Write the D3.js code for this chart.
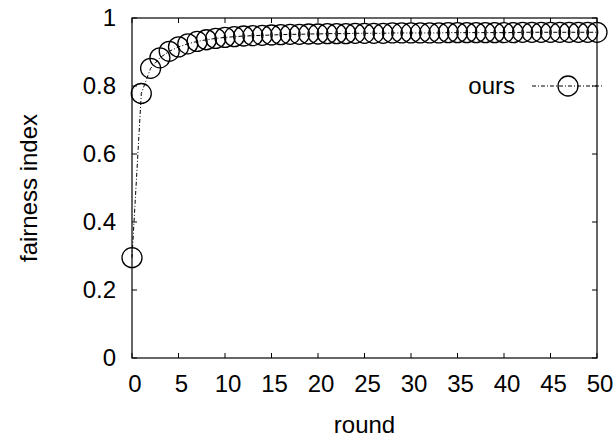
<!DOCTYPE html>
<html>
<head>
<meta charset="utf-8">
<script src="https://cdn.jsdelivr.net/npm/d3@7"></script>
<style>
  body { margin: 0; background: #fff; }
  text { font-family: "Liberation Sans", Arial, sans-serif; fill: #000; }
</style>
</head>
<body>
<div class="chart"></div>
<script>
// data
var rounds = d3.range(0, 51);
var fairness = [0.295, 0.778, 0.852, 0.883, 0.902, 0.915, 0.924, 0.931, 0.936, 0.940,
                0.943, 0.945, 0.947, 0.948, 0.949, 0.950, 0.951, 0.952, 0.952, 0.953,
                0.953, 0.954, 0.954, 0.954, 0.955, 0.955, 0.955, 0.955, 0.956, 0.956,
                0.956, 0.956, 0.956, 0.956, 0.957, 0.957, 0.957, 0.957, 0.957, 0.957,
                0.957, 0.957, 0.958, 0.958, 0.958, 0.958, 0.958, 0.958, 0.958, 0.958,
                0.958];
var xTicks = [0, 5, 10, 15, 20, 25, 30, 35, 40, 45, 50];
var yTicks = [0, 0.2, 0.4, 0.6, 0.8, 1];
var yTickLabels = ["0", "0.2", "0.4", "0.6", "0.8", "1"];
var seriesName = "ours";

// plot frame edges
var pLeft = 132, pRight = 597, pTop = 18, pBottom = 358;

var svg = d3.select(".chart")
  .append("svg")
    .attr("width", 616)
    .attr("height", 440);

var x = d3.scaleLinear().domain([0, 50]).range([pLeft, pRight]);
var y = d3.scaleLinear().domain([0, 1]).range([pBottom, pTop]);

// ticks (inward, mirrored)
var tickLen = 5;
var g = svg.append("g").attr("stroke", "#000").attr("stroke-width", 1);
xTicks.forEach(function(t){
  g.append("line").attr("x1", x(t)).attr("x2", x(t)).attr("y1", pBottom).attr("y2", pBottom - tickLen);
  g.append("line").attr("x1", x(t)).attr("x2", x(t)).attr("y1", pTop).attr("y2", pTop + tickLen);
});
yTicks.forEach(function(t){
  g.append("line").attr("x1", pLeft).attr("x2", pLeft + tickLen).attr("y1", y(t)).attr("y2", y(t));
  g.append("line").attr("x1", pRight).attr("x2", pRight - tickLen).attr("y1", y(t)).attr("y2", y(t));
});

// frame
svg.append("rect")
  .attr("x", pLeft).attr("y", pTop)
  .attr("width", pRight - pLeft).attr("height", pBottom - pTop)
  .attr("fill", "none")
  .attr("stroke", "#000")
  .attr("stroke-width", 1.2);

// tick labels
svg.selectAll(".xl").data(xTicks).enter().append("text")
  .attr("x", function(d){ return x(d) + 3; })
  .attr("y", 392)
  .attr("text-anchor", "middle")
  .attr("font-size", 24)
  .text(function(d){ return d; });

svg.selectAll(".yl").data(yTicks).enter().append("text")
  .attr("x", 116)
  .attr("y", function(d){ return y(d); })
  .attr("dy", "0.35em")
  .attr("text-anchor", "end")
  .attr("font-size", 24)
  .text(function(d, i){ return yTickLabels[i]; });

// axis titles
svg.append("text")
  .attr("x", (pLeft + pRight) / 2)
  .attr("y", 433)
  .attr("text-anchor", "middle")
  .attr("font-size", 24)
  .text("round");

svg.append("text")
  .attr("transform", "translate(37," + ((pTop + pBottom) / 2) + ") rotate(-90)")
  .attr("text-anchor", "middle")
  .attr("font-size", 24)
  .text("fairness index");

// series line
var line = d3.line()
  .x(function(d, i){ return x(rounds[i]); })
  .y(function(d){ return y(d); });

svg.append("path")
  .datum(fairness)
  .attr("d", line)
  .attr("fill", "none")
  .attr("stroke", "#000")
  .attr("stroke-width", 1)
  .attr("stroke-dasharray", "4,2,1,2");

svg.selectAll(".pt").data(fairness).enter().append("circle")
  .attr("cx", function(d, i){ return x(rounds[i]); })
  .attr("cy", function(d){ return y(d); })
  .attr("r", 10)
  .attr("fill", "none")
  .attr("stroke", "#000")
  .attr("stroke-width", 1.3);

// legend
svg.append("text")
  .attr("x", 515)
  .attr("y", 94)
  .attr("text-anchor", "end")
  .attr("font-size", 24)
  .text(seriesName);

svg.append("line")
  .attr("x1", 532).attr("x2", 603)
  .attr("y1", 86).attr("y2", 86)
  .attr("stroke", "#000")
  .attr("stroke-width", 1)
  .attr("stroke-dasharray", "4,2,1,2");

svg.append("circle")
  .attr("cx", 568).attr("cy", 86).attr("r", 10)
  .attr("fill", "none")
  .attr("stroke", "#000")
  .attr("stroke-width", 1.3);
</script>
</body>
</html>
